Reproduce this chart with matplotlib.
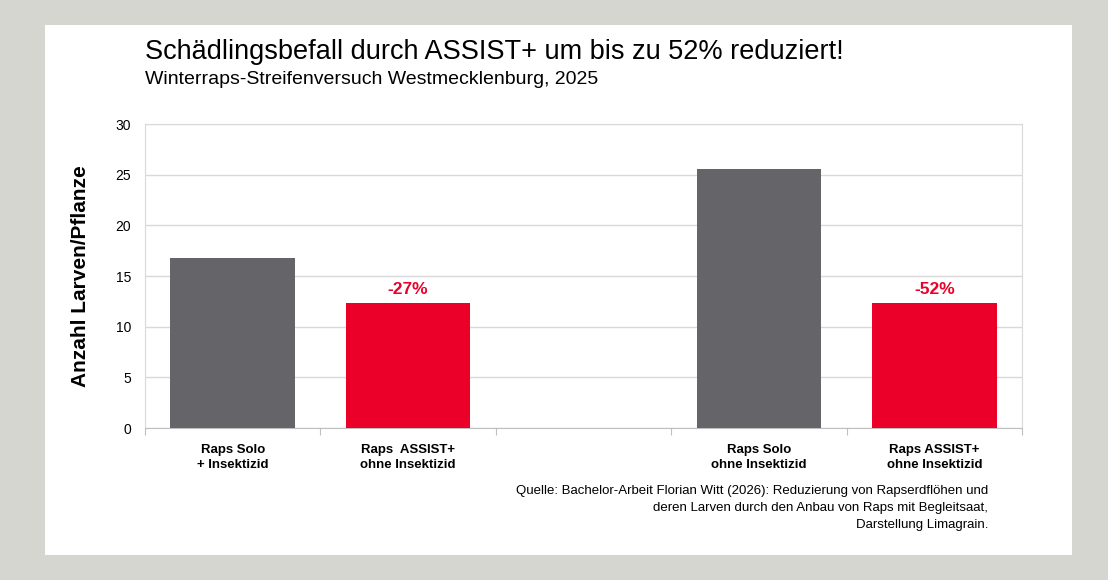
import matplotlib
matplotlib.use("Agg")
import matplotlib.pyplot as plt
from matplotlib.patches import Rectangle

categories = ["Raps Solo\n+ Insektizid", "Raps  ASSIST+\nohne Insektizid", "", "Raps Solo\nohne Insektizid", "Raps ASSIST+\nohne Insektizid"]
values = [16.8, 12.3, None, 25.6, 12.3]
colors = ["#646469", "#ea0029", None, "#646469", "#ea0029"]
annotations = [None, "-27%", None, None, "-52%"]

plt.rcParams['font.family'] = ['Liberation Sans', 'DejaVu Sans']
W, H = 1108, 580
fig = plt.figure(figsize=(W/100, H/100), dpi=100, facecolor="#d6d6d0")
fig.patches.append(Rectangle((45/W, 1-555/H), (1072-45)/W, (555-25)/H, transform=fig.transFigure,
                             facecolor="white", edgecolor="none", zorder=-5))
ax = fig.add_axes([145/W, 1-428/H, (1022-145)/W, (428-124)/H])
ax.set_facecolor("white")
for i, (v, c) in enumerate(zip(values, colors)):
    if v is None:
        continue
    ax.bar(i, v, width=0.71, color=c, zorder=3)
    if annotations[i]:
        ax.text(i, v + 0.6, annotations[i], ha="center", va="bottom", color="#ea0029",
                fontsize=12.5, fontweight="bold")
ax.set_xlim(-0.5, 4.5)
ax.set_ylim(0, 30)
ax.set_yticks(range(0, 31, 5))
ax.grid(axis="y", color="#d9d9d9", lw=1, zorder=0)
for s in ["top", "right", "left"]:
    ax.spines[s].set_color("#d9d9d9")
ax.spines["bottom"].set_color("#bfbfbf")
ax.tick_params(axis="y", length=0, labelsize=10, pad=10)
ax.set_xticks([i - 0.5 for i in range(6)])
ax.set_xticklabels([])
ax.tick_params(axis="x", length=5, color="#bfbfbf")
for i, lab in enumerate(categories):
    ax.text(i, -1.6, lab, ha="center", va="top", fontsize=9.5, fontweight="bold", linespacing=1.3)
ax.set_ylabel("Anzahl Larven/Pflanze", fontsize=15, fontweight="bold", labelpad=18)

fig.text(145/W, 1-52/H, "Schädlingsbefall durch ASSIST+ um bis zu 52% reduziert!", fontsize=19.5, va="center")
fig.text(145/W, 1-79/H, "Winterraps-Streifenversuch Westmecklenburg, 2025", fontsize=14, va="center")
fig.text(988/W, 1-508/H, "Quelle: Bachelor-Arbeit Florian Witt (2026): Reduzierung von Rapserdflöhen und\n"
         "deren Larven durch den Anbau von Raps mit Begleitsaat,\nDarstellung Limagrain.",
         ha="right", va="center", fontsize=9.5, linespacing=1.6)
fig.savefig("out.png", dpi=100, facecolor=fig.get_facecolor())
